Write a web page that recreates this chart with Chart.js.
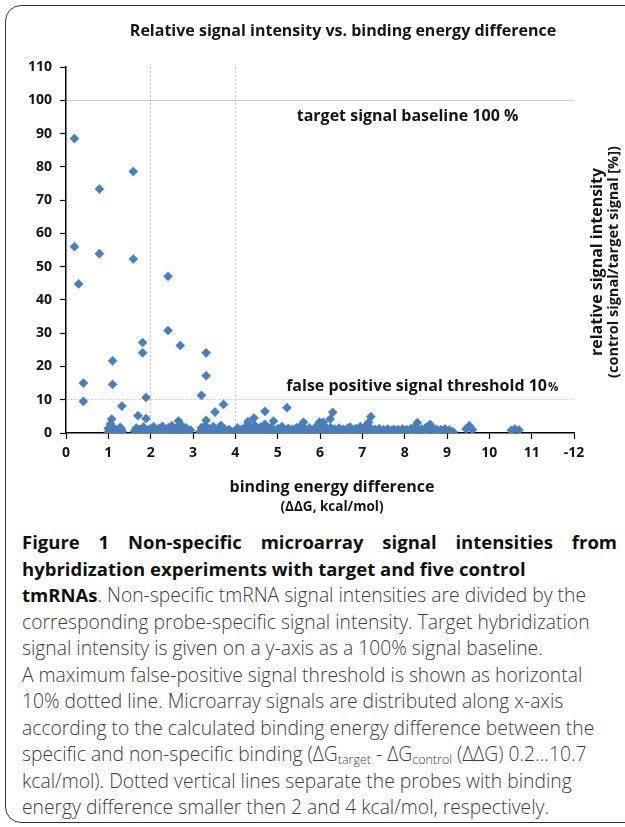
<!DOCTYPE html>
<html lang="en">
<head>
    <meta charset="UTF-8">
    <meta name="viewport" content="width=device-width, initial-scale=1.0">
    <title>Relative signal intensity vs. binding energy difference</title>
    <script src="https://cdn.jsdelivr.net/npm/chart.js"></script>
    <style>
        html, body { margin: 0; padding: 0; background: #fff; }
        body { width: 625px; height: 827px; position: relative; overflow: hidden; font-family: "Open Sans", sans-serif; }
        .frame {
            position: absolute; left: 5px; top: 5px; width: 650px; height: 816px;
            border: 1.5px solid #333; border-radius: 16px;
        }
        .chart-box { position: absolute; left: 0; top: 0; width: 625px; height: 520px; }
        .caption {
            position: absolute; left: 22px; top: 529px; width: 595px;
            font-size: 19.3px; font-weight: 300; line-height: 26.5px; color: #3c3c3c; white-space: nowrap;
        }
        .caption b { color: #111; font-weight: 700; font-size: 18.5px; }
        .caption .just { text-align: justify; text-align-last: justify; }
        .caption sub { font-size: 12.5px; vertical-align: -3px; line-height: 0; }
    </style>
</head>
<body>
    <div class="frame"></div>
    <div class="chart-box"><canvas id="signalChart"></canvas></div>
    <div class="caption">
        <div class="just"><b>Figure 1 Non-specific microarray signal intensities from</b></div>
        <div><b>hybridization experiments with target and five control</b></div>
        <div><b>tmRNAs</b>. Non-specific tmRNA signal intensities are divided by the</div>
        <div>corresponding probe-specific signal intensity. Target hybridization</div>
        <div>signal intensity is given on a y-axis as a 100% signal baseline.</div>
        <div>A maximum false-positive signal threshold is shown as horizontal</div>
        <div>10% dotted line. Microarray signals are distributed along x-axis</div>
        <div>according to the calculated binding energy difference between the</div>
        <div>specific and non-specific binding (ΔG<sub>target</sub> - ΔG<sub>control</sub> (ΔΔG) 0.2...10.7</div>
        <div>kcal/mol). Dotted vertical lines separate the probes with binding</div>
        <div>energy difference smaller then 2 and 4 kcal/mol, respectively.</div>
    </div>
    <script>
        // 数据: binding energy difference (ΔΔG, kcal/mol) and relative signal (%)
        const ddG = [
            0.2, 0.79, 1.59, 0.2, 0.79, 1.59, 0.3, 2.41,
            2.41, 2.7, 1.81, 1.81, 1.1, 1.1, 0.41, 0.41,
            1.32, 1.89, 1.89, 1.7, 3.31, 3.31, 3.2, 3.72, 3.52, 3.31,
            1.08, 1.05, 1.31, 1.0, 4.7, 4.44, 4.3, 4.9, 5.22, 5.61, 5.99, 6.08,
            6.24, 6.3, 6.71, 7.2, 7.15, 8.3, 8.6, 9.53, 9.6, 9.45, 10.6, 10.7, 10.52, 2.66,
            1.0, 1.04, 1.08, 1.12, 1.15, 1.2, 1.28, 1.33,
            1.62, 1.66, 1.7, 1.74, 1.78, 1.83, 1.86, 1.92, 1.97, 2.02, 2.07, 2.1, 2.15, 2.2,
            2.24, 2.28, 2.33, 2.37, 2.42, 2.47, 2.5, 2.55, 2.6, 2.63, 2.68, 2.72, 2.76, 2.8,
            2.84, 2.9, 2.94,
            3.16, 3.2, 3.24, 3.28, 3.33, 3.38, 3.43, 3.48, 3.52, 3.57, 3.62, 3.66, 3.7, 3.75,
            3.8, 3.85, 3.9, 3.95, 4.0, 4.05, 4.1, 4.15, 4.2, 4.25, 4.3, 4.35, 4.4, 4.45,
            4.5, 4.55, 4.6, 4.65, 4.7, 4.75, 4.8, 4.85, 4.9, 4.95, 5.0, 5.05, 5.1, 5.15,
            5.2, 5.25, 5.3, 5.35, 5.4, 5.45, 5.5, 5.55, 5.6, 5.65, 5.7, 5.75, 5.8, 5.85,
            5.9, 5.95, 6.0, 6.05, 6.1, 6.15, 6.2, 6.25, 6.3, 6.35, 6.4, 6.45, 6.5, 6.55,
            6.6, 6.65, 6.7, 6.75, 6.8, 6.85, 6.9, 6.95, 7.0, 7.05, 7.1, 7.15, 7.2, 7.25,
            7.3, 7.35, 7.4, 7.45, 7.5, 7.55, 7.6, 7.65, 7.7, 7.75, 7.8, 7.85, 7.9, 7.95,
            8.0, 8.05, 8.1, 8.15, 8.2, 8.25, 8.35, 8.4, 8.45, 8.5, 8.55, 8.65, 8.7, 8.75,
            8.8, 8.85, 8.9, 8.95, 9.0, 9.05, 9.1, 9.15
        ];
        const signal = [
            88.5, 73.3, 78.6, 56.0, 53.9, 52.3, 44.8, 47.1,
            30.8, 26.3, 27.2, 24.1, 21.7, 14.6, 15.0, 9.5,
            8.1, 10.7, 4.3, 5.2, 24.1, 17.2, 11.3, 8.6, 6.3, 3.8,
            4.2, 2.7, 1.2, 1.4, 6.5, 4.5, 3.4, 3.6, 7.6, 3.2, 3.3, 3.2,
            4.2, 6.2, 1.8, 4.9, 3.2, 3.1, 2.6, 2.2, 1.0, 1.2, 1.2, 0.9, 0.8, 3.6,
            0.3, 1.0, 0.5, 1.6, 0.2, 0.8, 1.7, 0.4,
            0.6, 1.5, 0.3, 1.1, 0.4, 1.8, 0.7, 0.2, 1.2, 0.5, 1.9, 0.8, 0.3, 1.4,
            0.6, 2.0, 0.9, 0.3, 1.6, 0.7, 2.2, 1.0, 0.4, 1.8, 0.8, 2.4, 1.1, 0.5,
            1.5, 0.3, 0.9,
            0.4, 1.6, 0.8, 2.1, 0.3, 1.3, 0.6, 1.9, 0.9, 0.2, 1.4, 2.3, 0.7, 1.2,
            0.3, 1.0, 0.5, 0.2, 0.8, 1.5, 0.4, 1.1, 0.3, 2.0, 0.9, 1.6, 0.5, 2.4,
            1.2, 0.3, 1.8, 0.8, 2.6, 1.0, 0.4, 1.7, 0.7, 0.2, 1.3, 0.6, 1.9, 0.9,
            0.3, 1.4, 0.7, 1.1, 0.3, 1.6, 0.8, 2.1, 0.4, 1.2, 0.6, 1.5, 0.2, 0.9,
            1.8, 0.5, 1.3, 0.7, 2.2, 1.0, 0.3, 1.6, 0.8, 1.2, 0.4, 1.5, 0.7, 1.1,
            0.3, 1.4, 0.6, 1.0, 0.2, 1.3, 0.7, 1.9, 0.4, 1.2, 2.4, 0.8, 1.4, 0.3,
            1.1, 0.6, 1.3, 0.4, 1.0, 0.7, 1.2, 0.3, 0.9, 1.1, 0.5, 1.0, 0.3, 1.2,
            0.7, 1.0, 0.4, 1.3, 0.8, 1.9, 0.6, 1.2, 0.4, 1.6, 0.9, 1.5, 0.5, 1.1,
            0.3, 1.0, 0.6, 1.2, 0.4, 0.9, 0.5, 0.3
        ];
        const xTickLabels = ['0', '1', '2', '3', '4', '5', '6', '7', '8', '9', '10', '11', '-12'];
        const yTicks = [0, 10, 20, 30, 40, 50, 60, 70, 80, 90, 100, 110];
        const dottedX = [2, 4];       // vertical dotted separators
        const baselineY = 100;        // target signal baseline
        const thresholdY = 10;        // false positive threshold

        const titleText = 'Relative signal intensity vs. binding energy difference';
        const FONT = '"Open Sans", sans-serif';

        // 文字标注
        const textPlugin = {
            id: 'texts',
            afterDraw(chart) {
                const { ctx, scales: { x, y } } = chart;
                ctx.save();
                ctx.fillStyle = '#151515';
                ctx.textBaseline = 'middle';

                ctx.textAlign = 'center';
                ctx.font = 'bold 16px ' + FONT;
                ctx.fillText(titleText, 343, 31);

                ctx.textAlign = 'left';
                ctx.fillText('target signal baseline 100 %', x.getPixelForValue(5.45), y.getPixelForValue(95));

                const fx = x.getPixelForValue(5.2), fy = y.getPixelForValue(14);
                const part = 'false positive signal threshold 10';
                ctx.fillText(part, fx, fy);
                const w = ctx.measureText(part).width;
                ctx.font = 'bold 11.5px ' + FONT;
                ctx.fillText('%', fx + w + 1, fy + 1.5);

                // x axis title
                ctx.textAlign = 'center';
                ctx.font = 'bold 16px ' + FONT;
                ctx.fillText('binding energy difference', 332, 487);
                ctx.font = 'bold 13.5px ' + FONT;
                ctx.fillText('(ΔΔG, kcal/mol)', 332, 507);

                // y axis title (right side, rotated)
                ctx.translate(597, 262);
                ctx.rotate(-Math.PI / 2);
                ctx.font = 'bold 16px ' + FONT;
                ctx.fillText('relative signal intensity', 0, 0);
                ctx.font = 'bold 14.5px ' + FONT;
                ctx.fillText('(control signal/target signal [%])', 0, 17);
                ctx.restore();
            }
        };

        const points = ddG.map((v, i) => ({ x: v, y: signal[i] }));

        const ctx = document.getElementById('signalChart').getContext('2d');
        new Chart(ctx, {
            type: 'scatter',
            data: {
                datasets: [{
                    data: points,
                    pointStyle: 'rectRot',
                    pointRadius: 4.6,
                    pointBackgroundColor: '#4a7ebb',
                    pointBorderColor: '#4a7ebb',
                    pointBorderWidth: 0.5
                }]
            },
            options: {
                responsive: true,
                maintainAspectRatio: false,
                animation: false,
                layout: { padding: { left: 0, right: 51, top: 67, bottom: 0 } },
                plugins: { legend: { display: false }, tooltip: { enabled: false }, title: { display: false } },
                scales: {
                    x: {
                        type: 'linear',
                        min: 0,
                        max: 12,
                        afterFit: s => { s.height = 87; },
                        afterBuildTicks: s => { s.ticks = xTickLabels.map((_, i) => ({ value: i })); },
                        ticks: {
                            autoSkip: false,
                            maxRotation: 0,
                            padding: 6,
                            color: '#151515',
                            font: { family: FONT, size: 14, weight: 'bold' },
                            callback: (v, i) => xTickLabels[i]
                        },
                        grid: {
                            color: c => dottedX.includes(c.tick && c.tick.value) ? '#c8c8c8' : 'rgba(0,0,0,0)',
                            lineWidth: 1,
                            tickColor: '#000',
                            tickLength: 6,
                            tickWidth: 1.2
                        },
                        border: {
                            display: true, color: '#000', width: 1.5,
                            dash: c => (c.tick && dottedX.includes(c.tick.value)) ? [2, 2] : []
                        }
                    },
                    y: {
                        min: 0,
                        max: 110,
                        afterFit: s => { s.width = 66; },
                        afterBuildTicks: s => { s.ticks = yTicks.map(v => ({ value: v })); },
                        ticks: {
                            padding: 8,
                            color: '#151515',
                            font: { family: FONT, size: 14, weight: 'bold' }
                        },
                        grid: {
                            color: c => {
                                const v = c.tick && c.tick.value;
                                if (v === baselineY || v === thresholdY) return '#c8c8c8';
                                return 'rgba(0,0,0,0)';
                            },
                            lineWidth: 1,
                            tickColor: '#000',
                            tickLength: 6,
                            tickWidth: 1.2
                        },
                        border: {
                            display: true, color: '#000', width: 1.5,
                            dash: c => (c.tick && c.tick.value === thresholdY) ? [2, 2] : []
                        }
                    }
                }
            },
            plugins: [textPlugin]
        });
    </script>
</body>
</html>
